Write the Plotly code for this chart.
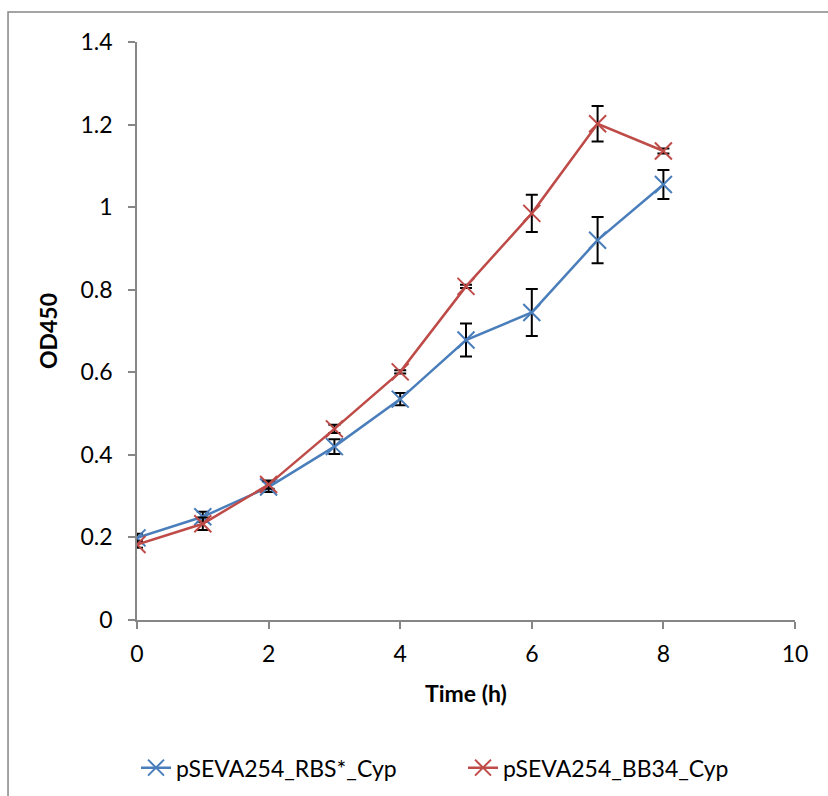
import plotly.graph_objects as go

# Growth curves: optical density at 450 nm over time
time_h = [0, 1, 2, 3, 4, 5, 6, 7, 8]

rbs_od = [0.199, 0.250, 0.322, 0.420, 0.535, 0.678, 0.745, 0.920, 1.055]
rbs_err = [0.010, 0.012, 0.012, 0.018, 0.015, 0.040, 0.057, 0.056, 0.035]

bb34_od = [0.183, 0.233, 0.328, 0.463, 0.601, 0.808, 0.985, 1.202, 1.136]
bb34_err = [0.008, 0.015, 0.010, 0.010, 0.004, 0.004, 0.045, 0.043, 0.006]

series_names = ["pSEVA254_RBS*_Cyp", "pSEVA254_BB34_Cyp"]
series_colors = ["#4A7EBB", "#BE4B48"]

FONT = "Lato, 'Open Sans', sans-serif"
AXIS_GREY = "#868686"

fig = go.Figure()
for name, y, err, color in [
    (series_names[0], rbs_od, rbs_err, series_colors[0]),
    (series_names[1], bb34_od, bb34_err, series_colors[1]),
]:
    fig.add_trace(go.Scatter(
        x=time_h, y=y, name=name, mode="lines+markers",
        line=dict(color=color, width=2.5),
        marker=dict(symbol="x-thin", size=17, line=dict(color=color, width=2)),
        error_y=dict(type="data", array=err, visible=True,
                     color="black", thickness=2, width=6),
    ))

fig.update_layout(
    width=828, height=796,
    margin=dict(l=137, r=33, t=42, b=176, autoexpand=False),
    paper_bgcolor="white", plot_bgcolor="white",
    font=dict(family=FONT, size=23, color="black"),
    showlegend=True,
    legend=dict(orientation="h", x=-0.0015, xanchor="left",
                y=-0.2555, yanchor="middle",
                font=dict(size=23), itemwidth=30, entrywidth=282,
                bgcolor="rgba(0,0,0,0)"),
    xaxis=dict(
        range=[0, 10], dtick=2, tick0=0, automargin=False,
        showline=True, linecolor=AXIS_GREY, linewidth=1.5,
        ticks="outside", ticklen=7, tickcolor=AXIS_GREY, tickwidth=1.5,
        showgrid=False, zeroline=False,
        tickfont=dict(size=23), ticklabelstandoff=6,
        title=dict(text="<b>Time (h)</b>", font=dict(size=23), standoff=20),
    ),
    yaxis=dict(
        range=[0, 1.4], dtick=0.2, tick0=0, automargin=False,
        showline=True, linecolor=AXIS_GREY, linewidth=1.5,
        ticks="outside", ticklen=7, tickcolor=AXIS_GREY, tickwidth=1.5,
        showgrid=False, zeroline=False,
        tickfont=dict(size=23), ticklabelstandoff=11,
        title=dict(text="<b>OD450</b>", font=dict(size=23), standoff=16),
    ),
    shapes=[dict(
        type="rect", xref="paper", yref="paper",
        x0=-0.196, x1=1.07, y0=-0.32, y1=1.052,
        line=dict(color=AXIS_GREY, width=1.5), fillcolor="rgba(0,0,0,0)",
        layer="below",
    )],
)

fig.write_html("out.html")
